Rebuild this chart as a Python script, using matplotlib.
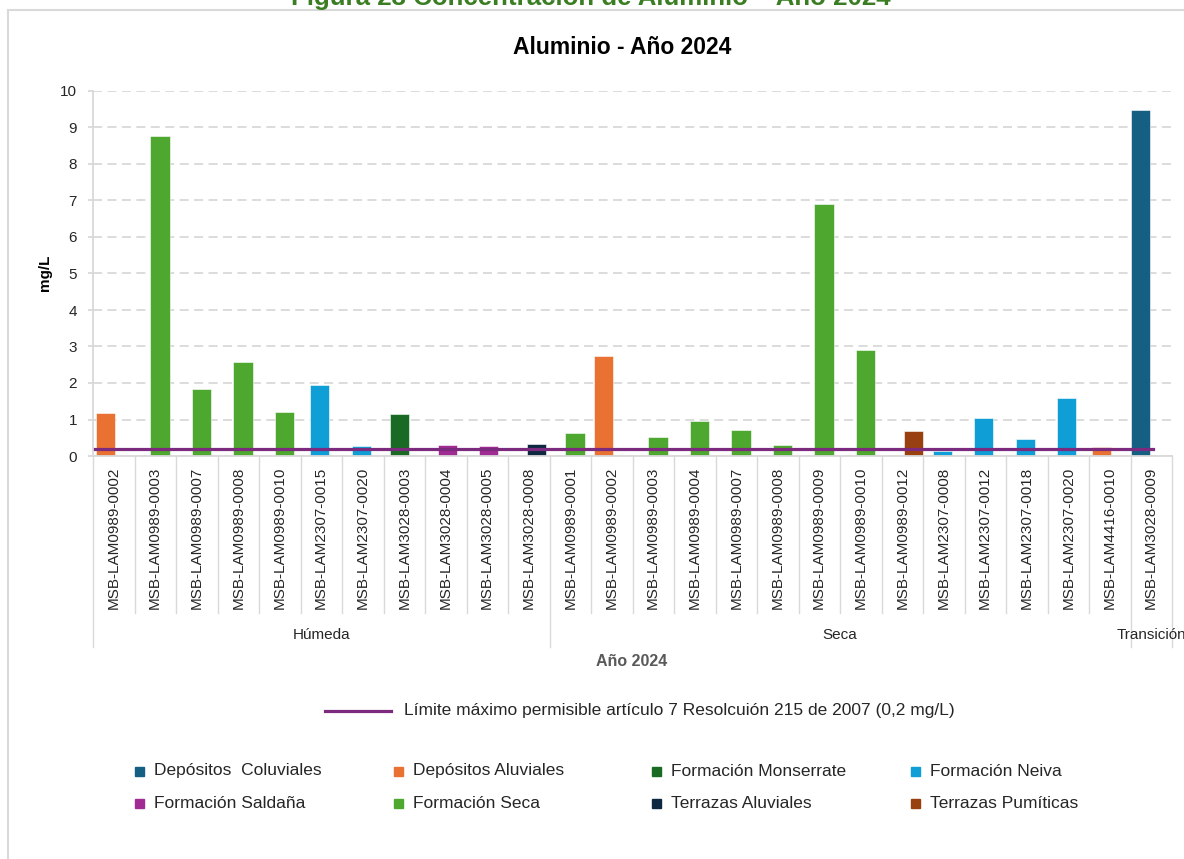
import numpy as np
import matplotlib
matplotlib.use("Agg")
import matplotlib.pyplot as plt
from matplotlib.patches import Rectangle
from matplotlib.lines import Line2D

plt.rcParams['font.family'] = ['Liberation Sans', 'DejaVu Sans']

W, H = 1184, 859

estaciones = [
    "MSB-LAM0989-0002", "MSB-LAM0989-0003", "MSB-LAM0989-0007", "MSB-LAM0989-0008",
    "MSB-LAM0989-0010", "MSB-LAM2307-0015", "MSB-LAM2307-0020", "MSB-LAM3028-0003",
    "MSB-LAM3028-0004", "MSB-LAM3028-0005", "MSB-LAM3028-0008",
    "MSB-LAM0989-0001", "MSB-LAM0989-0002", "MSB-LAM0989-0003", "MSB-LAM0989-0004",
    "MSB-LAM0989-0007", "MSB-LAM0989-0008", "MSB-LAM0989-0009", "MSB-LAM0989-0010",
    "MSB-LAM0989-0012", "MSB-LAM2307-0008", "MSB-LAM2307-0012", "MSB-LAM2307-0018",
    "MSB-LAM2307-0020", "MSB-LAM4416-0010",
    "MSB-LAM3028-0009",
]
temporadas = ["Húmeda", "Seca", "Transición"]
n_por_temporada = [11, 14, 1]

valores = [1.19, 8.78, 1.83, 2.57, 1.20, 1.95, 0.27, 1.16, 0.29, 0.27, 0.34,
           0.62, 2.73, 0.52, 0.96, 0.70, 0.29, 6.91, 2.90, 0.68, 0.15, 1.04, 0.47, 1.58, 0.25,
           9.48]

formacion = [
    "Depósitos Aluviales", "Formación Seca", "Formación Seca", "Formación Seca",
    "Formación Seca", "Formación Neiva", "Formación Neiva", "Formación Monserrate",
    "Formación Saldaña", "Formación Saldaña", "Terrazas Aluviales",
    "Formación Seca", "Depósitos Aluviales", "Formación Seca", "Formación Seca",
    "Formación Seca", "Formación Seca", "Formación Seca", "Formación Seca",
    "Terrazas Pumíticas", "Formación Neiva", "Formación Neiva", "Formación Neiva",
    "Formación Neiva", "Depósitos Aluviales",
    "Depósitos  Coluviales",
]

formaciones = ["Depósitos  Coluviales", "Depósitos Aluviales", "Formación Monserrate",
               "Formación Neiva", "Formación Saldaña", "Formación Seca",
               "Terrazas Aluviales", "Terrazas Pumíticas"]
colores = ["#156082", "#E97132", "#196B24", "#0F9ED5",
           "#A02B93", "#4EA72E", "#0E2841", "#994010"]

limite = 0.2
limite_label = "Límite máximo permisible artículo 7 Resolcuión 215 de 2007 (0,2 mg/L)"

gris = "#D9D9D9"
texto = "#262626"

fig = plt.figure(figsize=(W / 100, H / 100), dpi=100)

# marco del grafico (recortado por la imagen)
fig.patches.append(Rectangle((8 / W, -0.1), 1.5, 1.1 - 10 / H, transform=fig.transFigure,
                             fill=False, edgecolor=gris, lw=1.5))

# titulo de la figura, cortado arriba como en el documento original
fig.text(591 / W, 1 - 5 / H, "Figura 23 Concentración de Aluminio – Año 2024",
         ha="center", va="baseline", color="#3A7D22", fontsize=18.6, fontweight="bold")

ax = fig.add_axes([93 / W, 1 - 456 / H, (1172 - 93) / W, (456 - 91) / H])

x = np.arange(len(estaciones))
paso = 0.077
ancho = 0.46
for k, f in enumerate(formaciones):
    idx = [i for i, ff in enumerate(formacion) if ff == f]
    ax.bar(x[idx] + (k - 3.5) * paso, [valores[i] for i in idx], width=ancho,
           color=colores[k], edgecolor="white", linewidth=0.4, zorder=2, label=f)

ax.plot([-0.45, len(x) - 0.95], [limite, limite], color="#7B2A7E", lw=2.3, zorder=3)

ax.set_xlim(-0.5, len(x) - 0.5)
ax.set_ylim(0, 10)
ax.set_yticks(range(0, 11))
ax.grid(axis="y", color=gris, lw=1.3, linestyle=(0, (5, 3)), zorder=0)
ax.set_axisbelow(True)
for s in ["top", "right"]:
    ax.spines[s].set_visible(False)
for s in ["left", "bottom"]:
    ax.spines[s].set_color(gris)
    ax.spines[s].set_linewidth(1.3)
ax.tick_params(axis="y", length=3.5, color=gris, width=1.3, pad=8, labelsize=11, labelcolor=texto)
ax.set_xticks(x, estaciones, rotation=90)
ax.tick_params(axis="x", length=0, pad=8, labelsize=11, labelcolor=texto)

# separadores del eje de categorias en dos niveles
bordes = np.cumsum([0] + n_por_temporada)
trans = ax.get_xaxis_transform()
for b in range(len(x) + 1):
    fondo = -0.523 if b in bordes else -0.430
    ax.plot([b - 0.5, b - 0.5], [0, fondo], color=gris, lw=1, transform=trans, clip_on=False)
for t, a, b in zip(temporadas, bordes[:-1], bordes[1:]):
    ax.text((a + b - 1) / 2, -0.490, t, transform=trans, ha="center", va="center",
            fontsize=11, color=texto)

fig.text(632 / W, 1 - 661 / H, "Año 2024", ha="center", va="center", fontsize=11.5,
         fontweight="bold", color="#595959")
fig.text(45 / W, 1 - 273 / H, "mg/L", rotation=90, ha="center", va="center",
         fontsize=11, fontweight="bold", color="black")
fig.text(622 / W, 1 - 48 / H, "Aluminio - Año 2024", ha="center", va="center",
         fontsize=16.5, fontweight="bold", color="black")

# leyenda de la linea
yl = 1 - 711 / H
fig.add_artist(Line2D([325 / W, 391 / W], [yl, yl], color="#7B2A7E", lw=2.3,
                      transform=fig.transFigure))
fig.text(404 / W, yl, limite_label, ha="left", va="center", fontsize=12.5, color=texto)

# leyenda de formaciones (4 columnas x 2 filas)
col_x = [135, 394, 652, 911]
fila_y = [771, 803]
for k, f in enumerate(formaciones):
    cx = col_x[k % 4]
    cy = fila_y[k // 4]
    fig.patches.append(Rectangle((cx / W, 1 - (cy + 4.5) / H), 9 / W, 9 / H,
                                 transform=fig.transFigure, color=colores[k]))
    fig.text((cx + 19) / W, 1 - cy / H, f, ha="left", va="center", fontsize=12.5, color=texto)

fig.savefig("out.png", dpi=100)
